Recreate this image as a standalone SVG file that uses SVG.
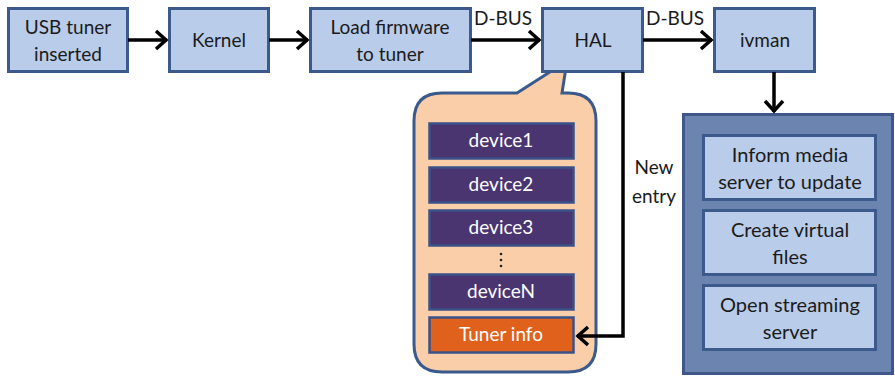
<svg xmlns="http://www.w3.org/2000/svg" width="895" height="377" viewBox="0 0 895 377">
  <style>
    text { font-family: Lato, "Open Sans", "Liberation Sans", sans-serif; font-size: 19px; fill: #1b1b1b; text-anchor: middle; }
    .step { fill: #b9cce9; stroke: #3d5a8c; stroke-width: 3; }
    .dev { fill: #4b3571; stroke: #3a5189; stroke-width: 2.5; }
    .info { fill: #e0611b; stroke: #3a5189; stroke-width: 2.5; }
    .light { fill: #ffffff; }
    .act { font-size: 20px; }
    .wire { fill: none; stroke: #000; stroke-width: 3.5; }
    .lbl { text-anchor: start; }
  </style>
  <defs>
    <marker id="head" markerUnits="userSpaceOnUse" markerWidth="16" markerHeight="22" viewBox="0 0 16 22" refX="13" refY="11" orient="auto">
      <path d="M2,2 L12,11 L2,20" fill="none" stroke="#000" stroke-width="3.5"/>
    </marker>
  </defs>

  <!-- top row of processing steps -->
  <g id="usb">
    <rect class="step" x="8.5" y="8.5" width="119" height="63"/>
    <text x="68" y="34">USB tuner</text>
    <text x="68" y="61">inserted</text>
  </g>
  <g id="kernel">
    <rect class="step" x="169.5" y="8.5" width="99" height="63"/>
    <text x="219" y="47">Kernel</text>
  </g>
  <g id="firmware">
    <rect class="step" x="310.5" y="8.5" width="160" height="63"/>
    <text x="390" y="34">Load firmware</text>
    <text x="390" y="61">to tuner</text>
  </g>

  <!-- HAL device list shown as a callout -->
  <g id="hal-list">
    <path d="M442,93 L517,93 L567,61 L562,93 L568,93 Q596,93 596,121 L596,344 Q596,372 568,372 L442,372 Q414,372 414,344 L414,121 Q414,93 442,93 Z" fill="#f9cea8" stroke="#3b5a8c" stroke-width="3"/>
    <rect class="dev" x="429.5" y="123.5" width="144" height="35"/>
    <text class="light" x="501" y="147">device1</text>
    <rect class="dev" x="429.5" y="167.5" width="144" height="35"/>
    <text class="light" x="501" y="191">device2</text>
    <rect class="dev" x="429.5" y="210.5" width="144" height="35"/>
    <text class="light" x="501" y="234">device3</text>
    <g fill="#222">
      <circle cx="501" cy="254" r="1.3"/>
      <circle cx="501" cy="260" r="1.3"/>
      <circle cx="501" cy="266" r="1.3"/>
    </g>
    <rect class="dev" x="429.5" y="274.5" width="144" height="35"/>
    <text class="light" x="501" y="298">deviceN</text>
    <rect class="info" x="429.5" y="317.5" width="144" height="35"/>
    <text class="light" x="501" y="341">Tuner info</text>
  </g>

  <g id="hal">
    <rect class="step" x="542.5" y="8.5" width="100" height="63"/>
    <text x="593" y="47">HAL</text>
  </g>
  <g id="ivman">
    <rect class="step" x="714.5" y="8.5" width="100" height="63"/>
    <text x="765" y="47">ivman</text>
  </g>

  <!-- ivman actions -->
  <g id="actions">
    <rect x="683.5" y="114.5" width="209" height="259" fill="#6c85b0" stroke="#3d5889" stroke-width="3"/>
    <rect class="step" x="703.5" y="135.5" width="172" height="64"/>
    <text class="act" x="790" y="162">Inform media</text>
    <text class="act" x="790" y="189">server to update</text>
    <rect class="step" x="703.5" y="210.5" width="172" height="64"/>
    <text class="act" x="790" y="237">Create virtual</text>
    <text class="act" x="790" y="264">files</text>
    <rect class="step" x="703.5" y="285.5" width="172" height="64"/>
    <text class="act" x="790" y="312">Open streaming</text>
    <text class="act" x="790" y="339">server</text>
  </g>

  <!-- connectors -->
  <g id="connectors">
    <line class="wire" x1="128" y1="40" x2="167" y2="40" marker-end="url(#head)"/>
    <line class="wire" x1="269" y1="40" x2="308" y2="40" marker-end="url(#head)"/>
    <line class="wire" x1="471" y1="40" x2="540" y2="40" marker-end="url(#head)"/>
    <line class="wire" x1="643" y1="40" x2="712" y2="40" marker-end="url(#head)"/>
    <line class="wire" x1="774" y1="72" x2="774" y2="112" marker-end="url(#head)"/>
    <polyline class="wire" points="623,72 623,336 577,336" marker-end="url(#head)"/>
    <text class="lbl" x="474" y="25">D-BUS</text>
    <text class="lbl" x="646" y="25">D-BUS</text>
    <text x="654" y="174">New</text>
    <text x="654" y="203">entry</text>
  </g>
</svg>
